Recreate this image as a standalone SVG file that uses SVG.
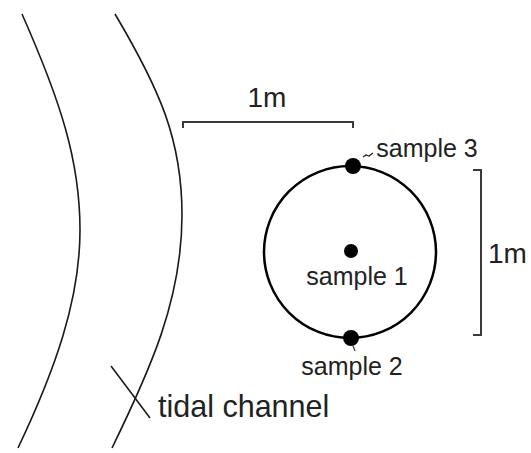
<svg xmlns="http://www.w3.org/2000/svg" width="531" height="453" viewBox="0 0 531 453">
<style>
.ln{fill:none;stroke:#1a1a1a;stroke-width:1.6}
.sc{fill:none;stroke:#3a3a3a;stroke-width:2}
.t{font-family:"Liberation Sans",Arial,sans-serif;fill:#222}
.s{font-size:25px}
.b{font-size:28px}
.c{font-size:30.5px}
.dot{fill:#000}
</style>
<rect width="531" height="453" fill="#fff"/>
<g id="channel">
<path class="ln" d="M22,14 C60,100 80,160 80,230 C80,300 55,370 18,448"/>
<path class="ln" d="M115,14 C160,90 182,140 182,215 C182,300 150,370 112,448"/>
</g>
<g id="scale-h">
<path class="sc" d="M183,128 V122 H353 V128"/>
<text class="t b" x="267" y="107" text-anchor="middle">1m</text>
</g>
<g id="scale-v">
<path class="sc" d="M473,170 H481 V335 H473"/>
<text class="t b" x="488" y="263">1m</text>
</g>
<g id="plot">
<circle cx="350" cy="252" r="86" fill="none" stroke="#000" stroke-width="2.5"/>
</g>
<g id="sample1">
<circle class="dot" cx="351" cy="251" r="7"/>
<text class="t s" x="357" y="285" text-anchor="middle">sample 1</text>
</g>
<g id="sample2">
<circle class="dot" cx="351" cy="338" r="8"/>
<text class="t s" x="352" y="375" text-anchor="middle">sample 2</text>
</g>
<g id="sample3">
<circle class="dot" cx="353" cy="166" r="8"/>
<text class="t s" x="427" y="157" text-anchor="middle">sample 3</text>
</g>
<g id="connectors">
<path d="M363,157 L366,155 L369,156 L373,153" fill="none" stroke="#222" stroke-width="1.2"/>
<path d="M353,346 L355,351" fill="none" stroke="#333" stroke-width="1.2"/>
<path class="ln" d="M111,366 L150,418"/>
</g>
<g id="label-channel">
<text class="t c" x="158" y="417">tidal channel</text>
</g>
</svg>
